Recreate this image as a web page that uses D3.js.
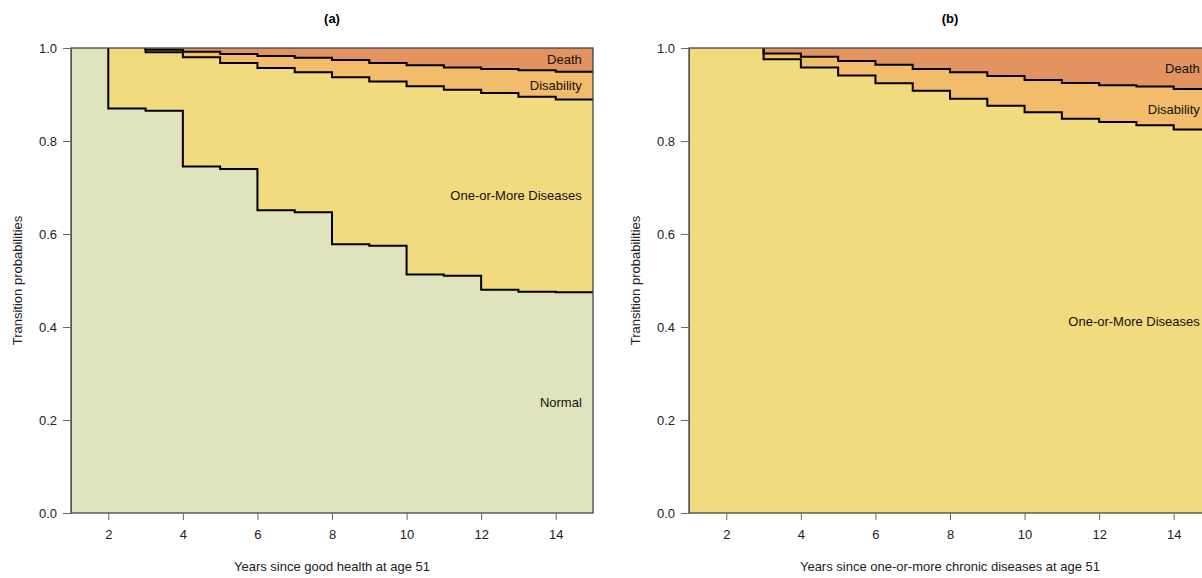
<!DOCTYPE html>
<html>
<head>
<meta charset="utf-8">
<script src="https://cdn.jsdelivr.net/npm/d3@7"></script>
<style>
	body { margin: 0; background: white; }
	text { font-family: "Liberation Sans", Arial, sans-serif; }
</style>
</head>
<body>
<div id="wrapper"></div>
<script>
// Data: step values at the start of each year (hold until next year)
const years = [1, 2, 3, 4, 5, 6, 7, 8, 9, 10, 11, 12, 13, 14]
const yearEnd = 15

// panel (a): upper boundaries of the stacked states
const aNormal = [1.000, 0.870, 0.865, 0.745, 0.740, 0.651, 0.647, 0.578, 0.575, 0.513, 0.510, 0.480, 0.476, 0.475]
const aNoDisability = [1.000, 1.000, 0.991, 0.980, 0.968, 0.957, 0.948, 0.937, 0.928, 0.918, 0.910, 0.903, 0.895, 0.889]
const aAlive = [1.000, 1.000, 0.996, 0.992, 0.987, 0.983, 0.979, 0.974, 0.968, 0.963, 0.958, 0.955, 0.952, 0.949]

// panel (b): nobody is in the normal state
const bNormal = [0, 0, 0, 0, 0, 0, 0, 0, 0, 0, 0, 0, 0, 0]
const bNoDisability = [1.000, 1.000, 0.976, 0.958, 0.941, 0.924, 0.908, 0.891, 0.876, 0.862, 0.848, 0.841, 0.834, 0.825]
const bAlive = [1.000, 1.000, 0.988, 0.981, 0.972, 0.964, 0.955, 0.948, 0.940, 0.931, 0.925, 0.920, 0.917, 0.912]

const xTicks = [2, 4, 6, 8, 10, 12, 14]
const yTicks = [0, 0.2, 0.4, 0.6, 0.8, 1.0]

const panels = [
	{ title: '(a)', xLabel: 'Years since good health at age 51', normal: aNormal, noDis: aNoDisability, alive: aAlive, showNormal: true },
	{ title: '(b)', xLabel: 'Years since one-or-more chronic diseases at age 51', normal: bNormal, noDis: bNoDisability, alive: bAlive, showNormal: false }
]

const colors = {
	normal: '#e0e4be',
	diseases: '#f2da7e',
	disability: '#f3bc6a',
	death: '#e29360'
}

// Chart Dimensions
let dimensions = {
	width: 1202,
	height: 578,
	panelLefts: [71, 689],
	boundedWidth: 522,
	top: 48,
	boundedHeight: 465
}

const wrapper = d3.select('#wrapper')
	.append('svg')
		.attr('width', dimensions.width)
		.attr('height', dimensions.height)

panels.forEach((p, i) => {
	const bounds = wrapper.append('g')
		.attr('transform', `translate(${dimensions.panelLefts[i]}, ${dimensions.top})`)

	const xScale = d3.scaleLinear()
		.domain([1, yearEnd])
		.range([0, dimensions.boundedWidth])
	const yScale = d3.scaleLinear()
		.domain([0, 1])
		.range([dimensions.boundedHeight, 0])

	// rows with an extra point to carry the last step to the edge
	const rows = years.map((yr, j) => ({ x: yr, normal: p.normal[j], noDis: p.noDis[j], alive: p.alive[j] }))
	rows.push({ ...rows[rows.length - 1], x: yearEnd })

	const band = (lo, hi) => d3.area()
		.curve(d3.curveStepAfter)
		.x(d => xScale(d.x))
		.y0(d => yScale(lo(d)))
		.y1(d => yScale(hi(d)))

	const plot = bounds.append('g')
	plot.append('path').datum(rows).attr('d', band(d => d.alive, d => 1)).attr('fill', colors.death)
	plot.append('path').datum(rows).attr('d', band(d => d.noDis, d => d.alive)).attr('fill', colors.disability)
	plot.append('path').datum(rows).attr('d', band(d => d.normal, d => d.noDis)).attr('fill', colors.diseases)
	if (p.showNormal) {
		plot.append('path').datum(rows).attr('d', band(d => 0, d => d.normal)).attr('fill', colors.normal)
	}

	// step lines, starting where each one first drops below 1
	const lineKeys = p.showNormal ? ['normal', 'noDis', 'alive'] : ['noDis', 'alive']
	lineKeys.forEach(k => {
		const first = rows.findIndex(d => d[k] < 1)
		const pts = [{ x: rows[first].x, v: 1 }].concat(rows.slice(first).map(d => ({ x: d.x, v: d[k] })))
		plot.append('path')
			.datum(pts)
			.attr('d', d3.line().curve(d3.curveStepAfter).x(d => xScale(d.x)).y(d => yScale(d.v)))
			.attr('fill', 'none')
			.attr('stroke', 'black')
			.attr('stroke-width', 2)
	})

	// state labels, centred in the last band
	const last = rows[rows.length - 1]
	const labels = [
		{ text: 'Death', v: (1 + last.alive) / 2 },
		{ text: 'Disability', v: (last.alive + last.noDis) / 2 },
		{ text: 'One-or-More Diseases', v: (last.noDis + last.normal) / 2 }
	]
	if (p.showNormal) labels.push({ text: 'Normal', v: last.normal / 2 })
	bounds.selectAll('.state-label')
		.data(labels)
		.join('text')
			.attr('class', 'state-label')
			.attr('x', xScale(14.7))
			.attr('y', d => yScale(d.v))
			.attr('dy', '0.35em')
			.attr('text-anchor', 'end')
			.attr('font-size', 13)
			.attr('fill', '#111')
			.text(d => d.text)

	// box
	bounds.append('rect')
		.attr('width', dimensions.boundedWidth)
		.attr('height', dimensions.boundedHeight)
		.attr('fill', 'none')
		.attr('stroke', '#444')
		.attr('stroke-width', 1.3)

	// Axes
	const yAxis = bounds.append('g')
		.call(d3.axisLeft(yScale).tickValues(yTicks).tickFormat(d3.format('.1f')).tickSize(8).tickPadding(6))
	const xAxis = bounds.append('g')
		.attr('transform', `translate(0, ${dimensions.boundedHeight})`)
		.call(d3.axisBottom(xScale).tickValues(xTicks).tickSize(7).tickPadding(10))
	xAxis.select('.domain').remove()
	;[xAxis, yAxis].forEach(ax => {
		ax.selectAll('text').attr('font-size', 13).attr('font-family', '"Liberation Sans", Arial, sans-serif').attr('fill', '#222')
		ax.selectAll('line').attr('stroke', '#666')
		ax.select('.domain').attr('stroke', '#555')
	})

	// Titles
	bounds.append('text')
		.attr('x', dimensions.boundedWidth / 2)
		.attr('y', -25)
		.attr('text-anchor', 'middle')
		.attr('font-size', 13)
		.attr('font-weight', 'bold')
		.text(p.title)

	bounds.append('text')
		.attr('x', dimensions.boundedWidth / 2)
		.attr('y', dimensions.boundedHeight + 58)
		.attr('text-anchor', 'middle')
		.attr('font-size', 13)
		.attr('fill', '#222')
		.text(p.xLabel)

	bounds.append('text')
		.attr('transform', `translate(-49, ${dimensions.boundedHeight / 2}) rotate(-90)`)
		.attr('text-anchor', 'middle')
		.attr('font-size', 13)
		.attr('fill', '#222')
		.text('Transition probabilities')
})
</script>
</body>
</html>
